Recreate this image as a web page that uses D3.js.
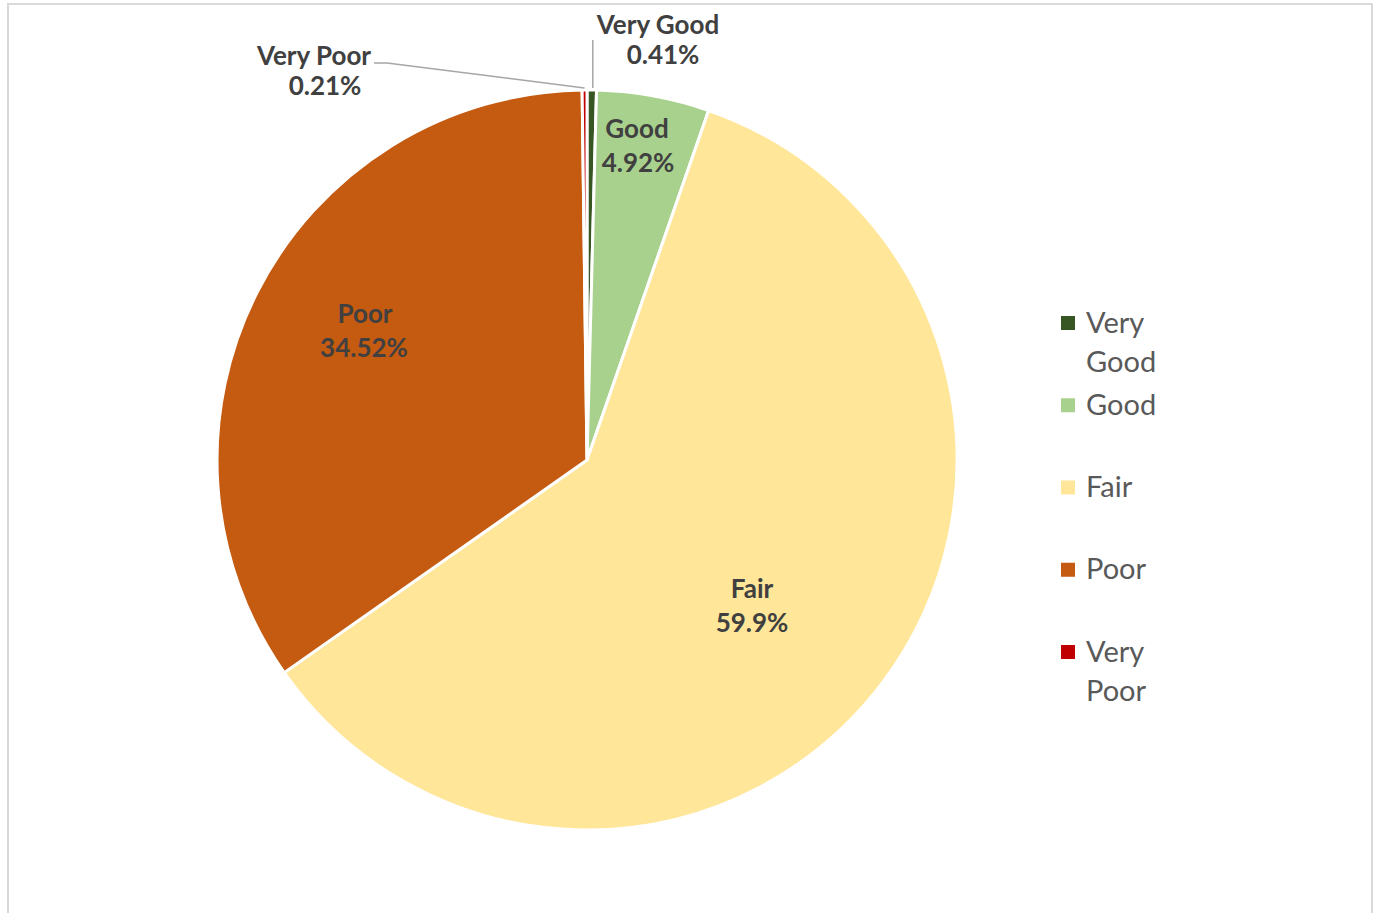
<!DOCTYPE html>
<html>
<head>
<meta charset="utf-8">
<script src="https://cdn.jsdelivr.net/npm/d3@7"></script>
<style>
  body { margin: 0; background: #fff; }
  svg { display: block; }
</style>
</head>
<body>
<svg id="chart" width="1380" height="913"></svg>
<script>
// data
const categories = ["Very Good", "Good", "Fair", "Poor", "Very Poor"];
const shares = [0.41, 4.92, 59.9, 34.52, 0.21];
const pctLabels = ["0.41%", "4.92%", "59.9%", "34.52%", "0.21%"];
const colors = ["#375623", "#a9d18e", "#ffe699", "#c55a11", "#c00000"];

const svg = d3.select("#chart");
const cx = 587, cy = 460, R = 370;

// chart border
svg.append("rect")
    .attr("x", 8).attr("y", 4)
    .attr("width", 1364).attr("height", 930)
    .attr("fill", "none")
    .attr("stroke", "#d9d9d9")
    .attr("stroke-width", 2);

const color = d3.scaleOrdinal().domain(categories).range(colors);
const pie = d3.pie().sort(null).value(d => d.v);
const arc = d3.arc().innerRadius(0).outerRadius(R);
const rows = categories.map((c, i) => ({name: c, v: shares[i], pct: pctLabels[i]}));
const arcs = pie(rows);

const g = svg.append("g").attr("transform", `translate(${cx},${cy})`);
g.selectAll("path.slice")
    .data(arcs)
    .join("path")
    .attr("class", "slice")
    .attr("d", arc)
    .attr("fill", d => color(d.data.name))
    .attr("stroke", "#fff")
    .attr("stroke-width", 3)
    .attr("stroke-linejoin", "round");

// label placement relative to the pie centre
const labelPos = {
    "Very Good": {x1: 71, x2: 76, y: -426, gap: 30},
    "Good":      {x1: 50, x2: 51, y: -322, gap: 34},
    "Fair":      {x1: 165, x2: 165, y: 138, gap: 34},
    "Poor":      {x1: -222, x2: -223, y: -137, gap: 34},
    "Very Poor": {x1: -273, x2: -262, y: -395, gap: 30}
};

const labelFont = "Lato, 'Open Sans', sans-serif";
const lab = g.selectAll("g.lab").data(arcs).join("g").attr("class", "lab");
lab.append("text")
    .attr("x", d => labelPos[d.data.name].x1)
    .attr("y", d => labelPos[d.data.name].y)
    .attr("text-anchor", "middle")
    .attr("font-family", labelFont)
    .attr("font-weight", "bold")
    .attr("font-size", 26)
    .attr("fill", "#404040")
    .text(d => d.data.name);
lab.append("text")
    .attr("x", d => labelPos[d.data.name].x2)
    .attr("y", d => labelPos[d.data.name].y + labelPos[d.data.name].gap)
    .attr("text-anchor", "middle")
    .attr("font-family", labelFont)
    .attr("font-weight", "bold")
    .attr("font-size", 26)
    .attr("fill", "#404040")
    .text(d => d.data.pct);

// leader lines for the two thin outer slices
const edge = d3.arc().innerRadius(R + 2).outerRadius(R + 2);
const vgPt = edge.centroid(arcs[0]);
g.append("path")
    .attr("d", d3.line()([[vgPt[0] + 1, vgPt[1]], [vgPt[0] + 1, -420]]))
    .attr("fill", "none").attr("stroke", "#a6a6a6").attr("stroke-width", 1.5);
const vpPt = edge.centroid(arcs[4]);
g.append("path")
    .attr("d", d3.line()([[vpPt[0], vpPt[1]], [-200, -397], [-213, -397]]))
    .attr("fill", "none").attr("stroke", "#a6a6a6").attr("stroke-width", 1.5);

// legend
const legendWrap = [["Very", "Good"], ["Good"], ["Fair"], ["Poor"], ["Very", "Poor"]];
const ly = d3.scalePoint().domain(categories).range([323, 652]);
const leg = svg.append("g").selectAll("g").data(categories).join("g")
    .attr("transform", d => `translate(1061,${ly(d)})`);
leg.append("rect")
    .attr("x", 0).attr("y", -7)
    .attr("width", 14).attr("height", 14)
    .attr("fill", d => color(d));
leg.append("text")
    .attr("x", 25).attr("y", 9.5)
    .attr("font-family", labelFont)
    .attr("font-size", 29)
    .attr("fill", "#595959")
    .selectAll("tspan")
    .data((d, i) => legendWrap[i])
    .join("tspan")
    .attr("x", 25)
    .attr("dy", (d, j) => j === 0 ? 0 : 39)
    .text(d => d);
</script>
</body>
</html>
